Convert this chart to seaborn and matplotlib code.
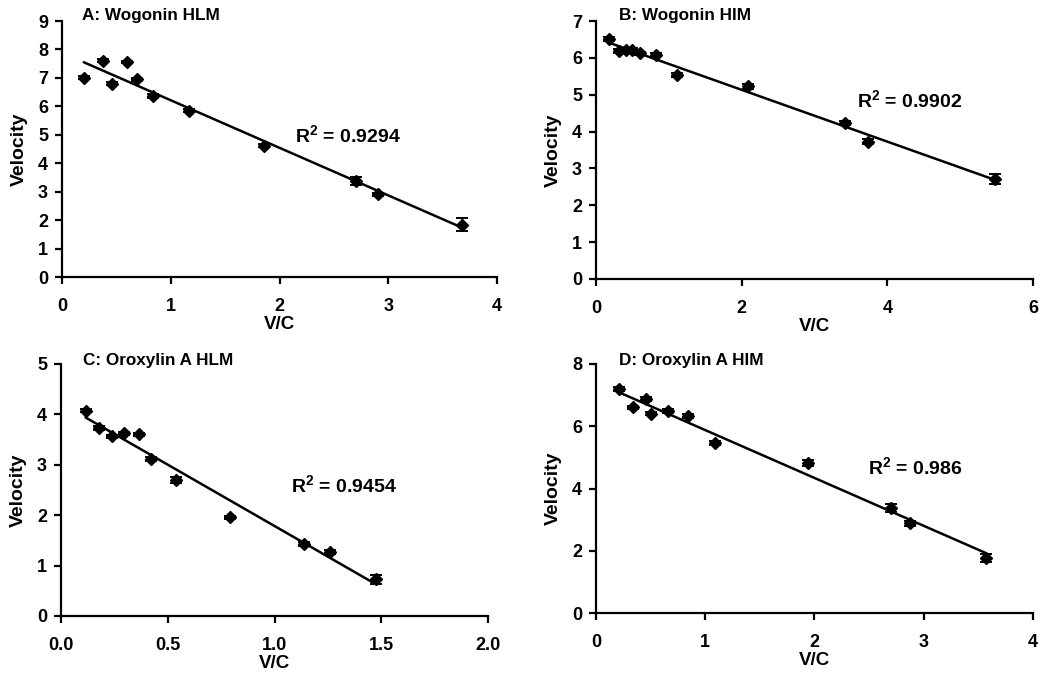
import numpy as np
import matplotlib
matplotlib.use("Agg")
import matplotlib.pyplot as plt
import seaborn as sns

sns.set_style("ticks")
plt.rcParams["font.family"] = ["Liberation Sans", "DejaVu Sans"]
plt.rcParams["font.weight"] = "bold"
plt.rcParams["text.color"] = "black"
plt.rcParams["axes.labelcolor"] = "black"
plt.rcParams["mathtext.fontset"] = "custom"
plt.rcParams["mathtext.bf"] = "Liberation Sans:bold"
plt.rcParams["mathtext.rm"] = "Liberation Sans:bold"
plt.rcParams["mathtext.default"] = "bf"

# Panel A: Wogonin HLM
a_x = [0.20, 0.38, 0.457, 0.60, 0.687, 0.84, 1.17, 1.86, 2.70, 2.91, 3.675]
a_y = [7.00, 7.61, 6.79, 7.56, 6.95, 6.36, 5.84, 4.62, 3.38, 2.91, 1.84]
a_err = [0.05, 0.05, 0.05, 0.05, 0.06, 0.06, 0.05, 0.06, 0.15, 0.06, 0.24]

# Panel B: Wogonin HIM
b_x = [0.18, 0.32, 0.41, 0.50, 0.61, 0.82, 1.11, 2.085, 3.42, 3.74, 5.48]
b_y = [6.52, 6.19, 6.22, 6.21, 6.12, 6.09, 5.53, 5.23, 4.24, 3.72, 2.72]
b_err = [0.05, 0.05, 0.05, 0.05, 0.04, 0.05, 0.05, 0.07, 0.06, 0.07, 0.13]

# Panel C: Oroxylin A HLM
c_x = [0.115, 0.18, 0.24, 0.295, 0.365, 0.42, 0.54, 0.79, 1.14, 1.26, 1.477]
c_y = [4.07, 3.73, 3.57, 3.63, 3.61, 3.12, 2.69, 1.96, 1.43, 1.27, 0.73]
c_err = [0.03, 0.04, 0.03, 0.03, 0.03, 0.04, 0.06, 0.03, 0.04, 0.04, 0.09]

# Panel D: Oroxylin A HIM
d_x = [0.213, 0.335, 0.457, 0.505, 0.658, 0.84, 1.09, 1.94, 2.70, 2.875, 3.57]
d_y = [7.19, 6.61, 6.88, 6.40, 6.49, 6.33, 5.46, 4.83, 3.37, 2.88, 1.77]
d_err = [0.06, 0.05, 0.06, 0.05, 0.05, 0.05, 0.06, 0.10, 0.14, 0.07, 0.12]

panels = [
    ("A: Wogonin HLM", a_x, a_y, a_err, "R$^{2}$ = 0.9294", (2.14, 4.99), (0, 4), 1, (0, 9), 1, False),
    ("B: Wogonin HIM", b_x, b_y, b_err, "R$^{2}$ = 0.9902", (3.58, 4.85), (0, 6), 2, (0, 7), 1, False),
    ("C: Oroxylin A HLM", c_x, c_y, c_err, "R$^{2}$ = 0.9454", (1.076, 2.60), (0, 2), 0.5, (0, 5), 1, True),
    ("D: Oroxylin A HIM", d_x, d_y, d_err, "R$^{2}$ = 0.986", (2.49, 4.70), (0, 4), 1, (0, 8), 2, False),
]

# axes boxes in pixels: left, top, right, bottom
boxes = [(62, 21, 497, 277), (596, 21, 1033, 279), (61, 364, 488, 616), (596, 364, 1033, 613)]
title_pos = [(0.046, 1.02), (0.053, 1.023), (0.052, 1.013), (0.053, 1.016)]

W, H = 1050, 687
fig = plt.figure(figsize=(10.5, 6.87), dpi=100)

for (title, x, y, err, r2, r2pos, xl, xs, yl, ys, dec), box, tp in zip(panels, boxes, title_pos):
    l, t, r, b = box
    ax = fig.add_axes([l / W, (H - b) / H, (r - l) / W, (b - t) / H])
    sns.regplot(x=x, y=y, ax=ax, ci=None, scatter=False,
                line_kws={"color": "black", "lw": 1.8})
    ax.errorbar(x, y, yerr=err, fmt="D", color="black", ms=6.5,
                capsize=4.5, elinewidth=1.4, capthick=1.4, zorder=3)
    ax.set_xlim(*xl)
    ax.set_ylim(*yl)
    xt = np.arange(xl[0], xl[1] + xs / 2, xs)
    ax.set_xticks(xt)
    ax.set_yticks(np.arange(yl[0], yl[1] + ys / 2, ys))
    if dec:
        ax.set_xticklabels([f"{v:.1f}" for v in xt])
    else:
        ax.set_xticklabels([f"{v:g}" for v in xt])
    sns.despine(ax=ax)
    for s in ax.spines.values():
        s.set_linewidth(1.6)
        s.set_color("black")
    ax.tick_params(axis="both", direction="out", length=5, width=1.6,
                   labelsize=13, colors="black")
    ax.tick_params(axis="x", pad=10)
    ax.tick_params(axis="y", pad=5)
    for lab in ax.get_xticklabels() + ax.get_yticklabels():
        lab.set_fontweight("bold")
    ax.set_xlabel("V/C", fontsize=13.5, fontweight="bold", labelpad=1)
    ax.set_ylabel("Velocity", fontsize=14, fontweight="bold", labelpad=7)
    ax.text(tp[0], tp[1], title, transform=ax.transAxes, fontsize=12.3,
            fontweight="bold", ha="left", va="center", clip_on=False)
    ax.text(r2pos[0], r2pos[1], r2, fontsize=14, fontweight="bold",
            ha="left", va="center")

fig.savefig("out.png", dpi=100)
